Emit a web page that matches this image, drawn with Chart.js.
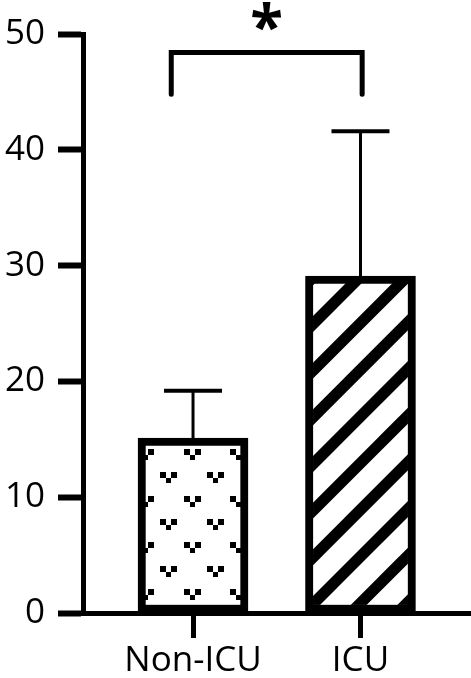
<!DOCTYPE html>
<html>
<head>
<meta charset="utf-8">
<script src="https://cdn.jsdelivr.net/npm/chart.js@4"></script>
<style>
  html, body { margin: 0; padding: 0; background: #fff; }
  canvas { display: block; }
</style>
</head>
<body>
<canvas id="c" width="471" height="678"></canvas>
<script>
// ---- data ----
const categories = ['Non-ICU', 'ICU'];
const xPositions = [1, 2];
const meanValues = [15.1, 29.1];
const upperErrors = [4.1, 12.5];
const yTickValues = [0, 10, 20, 30, 40, 50];
const bracketX = [0.87, 2.01];
const bracketY = [44.8, 48.4];
const significanceLabel = '*';

// ---- patterns ----
const PERIOD = 140 / 3;
function makeDots(ctx) {
  const c = document.createElement('canvas');
  c.width = 140; c.height = 140;
  const g = c.getContext('2d');
  g.fillStyle = '#fff'; g.fillRect(0, 0, 140, 140);
  g.fillStyle = '#000';
  const origins = [[43.5, 29], [20.2, 5.7]];
  for (const [ox, oy] of origins) {
    for (let i = -1; i <= 3; i++) for (let j = -1; j <= 3; j++) {
      const x = Math.round(ox + i * PERIOD), y = Math.round(oy + j * PERIOD);
      g.fillRect(x, y, 6, 6);
      g.fillRect(x + 11, y, 6, 6);
      g.fillRect(x + 6, y + 6, 5, 5);
    }
  }
  return ctx.createPattern(c, 'repeat');
}
function makeHatch(ctx) {
  const c = document.createElement('canvas');
  c.width = 140; c.height = 140;
  const g = c.getContext('2d');
  g.fillStyle = '#fff'; g.fillRect(0, 0, 140, 140);
  g.strokeStyle = '#000';
  g.lineWidth = 11.3;
  for (let k = -2; k <= 8; k++) {
    const s = 30.3 + k * PERIOD;
    g.beginPath();
    g.moveTo(s + 50, -50);
    g.lineTo(s - 190, 190);
    g.stroke();
  }
  return ctx.createPattern(c, 'repeat');
}

const canvas = document.getElementById('c');
const ctx0 = canvas.getContext('2d');
const fills = [makeDots(ctx0), makeHatch(ctx0)];

const annotations = {
  id: 'annotations',
  afterDatasetsDraw(chart) {
    const ctx = chart.ctx, xs = chart.scales.x, ys = chart.scales.y;
    ctx.save();
    ctx.strokeStyle = '#000';
    for (let i = 0; i < meanValues.length; i++) {
      const px = xs.getPixelForValue(xPositions[i]);
      const yBar = ys.getPixelForValue(meanValues[i]);
      const yTop = ys.getPixelForValue(meanValues[i] + upperErrors[i]);
      ctx.lineWidth = 3;
      ctx.beginPath(); ctx.moveTo(px, yBar); ctx.lineTo(px, yTop); ctx.stroke();
      ctx.lineWidth = 4;
      ctx.beginPath(); ctx.moveTo(px - 29, yTop); ctx.lineTo(px + 29, yTop); ctx.stroke();
    }
    const x1 = xs.getPixelForValue(bracketX[0]), x2 = xs.getPixelForValue(bracketX[1]);
    const yl = ys.getPixelForValue(bracketY[0]), yt = ys.getPixelForValue(bracketY[1]);
    ctx.lineWidth = 5;
    ctx.lineCap = 'round';
    ctx.lineJoin = 'miter';
    ctx.beginPath();
    ctx.moveTo(x1, yl); ctx.lineTo(x1, yt); ctx.lineTo(x2, yt); ctx.lineTo(x2, yl);
    ctx.stroke();
    ctx.fillStyle = '#000';
    ctx.font = 'bold 60px "Open Sans"';
    ctx.textAlign = 'center';
    ctx.textBaseline = 'alphabetic';
    ctx.fillText(significanceLabel, (x1 + x2) / 2, yt - 5);
    ctx.restore();
  }
};

new Chart(canvas, {
  type: 'bar',
  data: {
    datasets: [{
      data: xPositions.map((x, i) => ({ x: x, y: meanValues[i] })),
      backgroundColor: fills,
      borderColor: '#000',
      borderWidth: 8,
      borderSkipped: false,
      barThickness: 110
    }]
  },
  options: {
    responsive: false,
    animation: false,
    devicePixelRatio: 1,
    layout: { padding: { top: 31, right: 0, bottom: 0, left: 0 } },
    plugins: { legend: { display: false }, tooltip: { enabled: false } },
    scales: {
      x: {
        type: 'linear',
        offset: false,
        min: 0.343,
        max: 2.66,
        afterBuildTicks(scale) { scale.ticks = xPositions.map(v => ({ value: v })); },
        afterFit(scale) { scale.height = 65; },
        ticks: {
          autoSkip: false,
          maxRotation: 0,
          padding: 2,
          color: '#000',
          font: { family: 'Open Sans', size: 35, weight: 500 },
          callback: (v, i) => categories[i]
        },
        grid: { offset: false, drawOnChartArea: false, drawTicks: true, tickLength: 25, tickWidth: 5, tickColor: '#000' },
        border: { display: true, width: 5, color: '#000' }
      },
      y: {
        min: 0,
        max: 50,
        afterBuildTicks(scale) { scale.ticks = yTickValues.map(v => ({ value: v })); },
        afterFit(scale) { scale.width = 83; },
        ticks: {
          padding: 13,
          color: '#000',
          font: { family: 'Open Sans', size: 35, weight: 500 }
        },
        grid: { drawOnChartArea: false, drawTicks: true, tickLength: 25, tickWidth: 6, tickColor: '#000' },
        border: { display: true, width: 5, color: '#000' }
      }
    }
  },
  plugins: [annotations]
});
</script>
</body>
</html>
